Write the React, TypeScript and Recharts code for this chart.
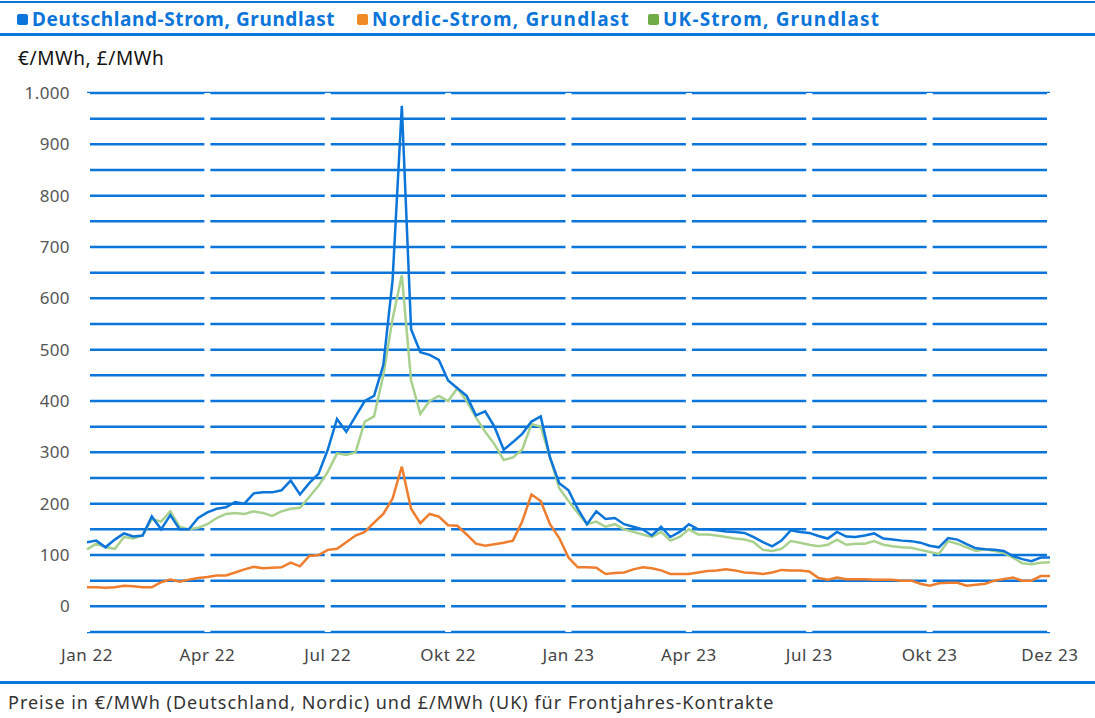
import { LineChart, Line, XAxis, YAxis, CartesianGrid } from "recharts";

// weekly values, Jan 2022 .. Dez 2023 (105 points)
const germany = [
  125, 128, 115, 130, 142, 136, 138, 175, 150, 178, 150, 150, 172, 183, 190, 193, 203, 200, 220, 222,
  222, 226, 245, 218, 240, 258, 305, 365, 340, 370, 400, 410, 470, 635, 975, 540, 495, 490, 480, 440,
  425, 410, 372, 380, 350, 305, 320, 336, 360, 370, 290, 240, 226, 190, 160, 185, 170, 172, 160, 155,
  150, 138, 155, 135, 145, 160, 150, 150, 148, 146, 145, 143, 135, 125, 117, 128, 148, 145, 143, 137,
  132, 145, 136, 135, 138, 142, 132, 130, 128, 127, 124, 118, 115, 133, 130, 121, 113, 111, 110, 108,
  98, 92, 88, 95, 95,
];
const nordic = [
  37, 37, 36, 37, 40, 39, 37, 37, 47, 52, 48, 52, 55, 57, 60, 60, 66, 72, 77, 74,
  75, 76, 85, 78, 98, 100, 110, 112, 125, 138, 145, 163, 180, 210, 272, 190, 162, 180, 175, 158,
  157, 140, 122, 118, 121, 124, 128, 165, 218, 205, 160, 133, 95, 76, 76, 75, 63, 65, 66, 72,
  76, 74, 70, 63, 63, 63, 66, 69, 70, 72, 70, 66, 65, 63, 66, 71, 70, 70, 68, 55,
  52, 56, 53, 53, 53, 52, 52, 52, 50, 50, 44, 40, 45, 46, 46, 40, 42, 44, 50, 53,
  56, 50, 50, 59, 59,
];
const uk = [
  111, 122, 115, 112, 135, 132, 138, 170, 165, 185, 155, 150, 153, 160, 172, 180, 182, 180, 185, 182,
  176, 185, 190, 192, 213, 235, 262, 298, 295, 300, 360, 370, 450, 560, 645, 440, 375, 400, 410, 400,
  425, 400, 368, 340, 316, 285, 290, 305, 355, 350, 290, 230, 205, 182, 160, 165, 155, 160, 150, 145,
  140, 135, 145, 128, 135, 150, 140, 140, 138, 135, 132, 130, 125, 110, 108, 112, 127, 124, 120, 117,
  120, 130, 120, 122, 122, 127, 120, 117, 115, 114, 110, 106, 102, 127, 122, 115, 108, 111, 108, 104,
  95, 84, 82, 85, 86,
];

const xTicks = [0, 13, 26, 39, 52, 65, 78, 91, 104];
const xLabels = ["Jan 22", "Apr 22", "Jul 22", "Okt 22", "Jan 23", "Apr 23", "Jul 23", "Okt 23", "Dez 23"];
const yTicks = [-50, 0, 50, 100, 150, 200, 250, 300, 350, 400, 450, 500, 550, 600, 650, 700, 750, 800, 850, 900, 950, 1000];

const BLUE = "#0b75d9";
const FONT = "'Noto Sans', sans-serif";

const data = germany.map((de, i) => ({ w: i, de, nordic: nordic[i], uk: uk[i] }));

const fmtY = (v: number) => {
  if (v < 0 || v % 100 !== 0) return "";
  return v.toLocaleString("de-DE");
};

const legend = [
  { name: "Deutschland-Strom, Grundlast", color: "#0b75d9", left: 17, spacing: 0.6 },
  { name: "Nordic-Strom, Grundlast", color: "#f08a24", left: 357, spacing: 1.2 },
  { name: "UK-Strom, Grundlast", color: "#6fac46", left: 648, spacing: 1.2 },
];

export default function App() {
  return (
    <div style={{ position: "absolute", left: 0, top: 0, width: 1095, height: 718, background: "#fff", fontFamily: FONT, overflow: "hidden" }}>
      <div style={{ position: "absolute", left: 0, top: 1, width: 1095, height: 2, background: BLUE }} />
      {legend.map((l) => (
        <div key={l.name} style={{ position: "absolute", left: l.left, top: 6, display: "flex", alignItems: "center", whiteSpace: "nowrap" }}>
          <span style={{ display: "inline-block", width: 11, height: 11, borderRadius: 2, background: l.color, marginRight: 4 }} />
          <span style={{ color: BLUE, fontWeight: 700, fontSize: 19, letterSpacing: l.spacing, lineHeight: "26px" }}>{l.name}</span>
        </div>
      ))}
      <div style={{ position: "absolute", left: 0, top: 33, width: 1095, height: 3, background: BLUE }} />
      <div style={{ position: "absolute", left: 18, top: 45, fontSize: 19, letterSpacing: 0.6, color: "#111", lineHeight: "26px" }}>€/MWh, £/MWh</div>

      <div style={{ position: "absolute", left: 0, top: 0 }}>
        <LineChart width={1095} height={672} data={data} margin={{ top: 93, right: 45, left: 0, bottom: 0 }}>
          <CartesianGrid vertical={false} stroke={BLUE} strokeWidth={2.5} strokeDasharray="" />
          <CartesianGrid horizontal={false} stroke="#ffffff" strokeWidth={6} />
          <XAxis
            type="number"
            dataKey="w"
            domain={[0, 104]}
            ticks={xTicks}
            tickFormatter={(v: number) => xLabels[xTicks.indexOf(v)] ?? ""}
            axisLine={false}
            tickLine={false}
            tickSize={0}
            tickMargin={17}
            height={40}
            interval={0}
            tick={{ fontSize: 17, fill: "#444", fontFamily: FONT, letterSpacing: 0.6 }}
          />
          <YAxis
            type="number"
            domain={[-50, 1000]}
            ticks={yTicks}
            tickFormatter={fmtY}
            axisLine={false}
            tickLine={false}
            tickSize={0}
            tickMargin={17}
            width={87}
            interval={0}
            tick={{ fontSize: 17, fill: "#555", fontFamily: FONT, letterSpacing: 0.4 }}
          />
          <Line type="linear" dataKey="uk" stroke="#a9d18e" strokeWidth={2.5} dot={false} isAnimationActive={false} />
          <Line type="linear" dataKey="de" stroke="#0b75d9" strokeWidth={2.5} dot={false} isAnimationActive={false} />
          <Line type="linear" dataKey="nordic" stroke="#ee7d2e" strokeWidth={2.5} dot={false} isAnimationActive={false} />
        </LineChart>
      </div>

      <div style={{ position: "absolute", left: 0, top: 681, width: 1095, height: 3, background: BLUE }} />
      <div style={{ position: "absolute", left: 8, top: 690, fontSize: 18, letterSpacing: 1, color: "#333", lineHeight: "25px", whiteSpace: "nowrap" }}>
        Preise in €/MWh (Deutschland, Nordic) und £/MWh (UK) für Frontjahres-Kontrakte
      </div>
    </div>
  );
}
